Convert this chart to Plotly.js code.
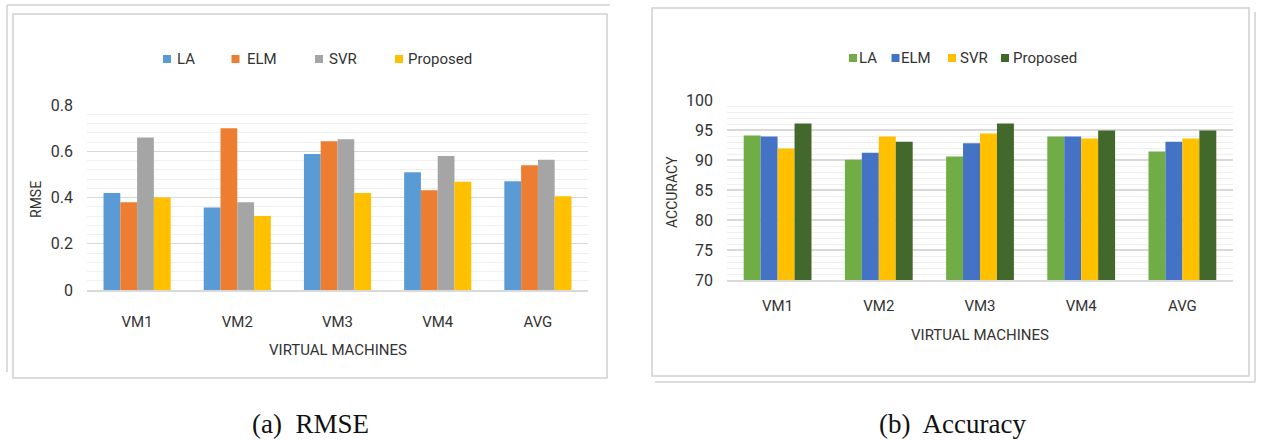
<!DOCTYPE html>
<html>
<head>
<meta charset="utf-8">
<script src="https://cdn.plot.ly/plotly-3.0.1.min.js"></script>
<style>
html,body{margin:0;padding:0;background:#fff;}
#chart{width:1261px;height:441px;}
</style>
</head>
<body>
<div id="chart"></div>
<script>
// ---- data ----
const categories = ['VM1', 'VM2', 'VM3', 'VM4', 'AVG'];
const methods = ['LA', 'ELM', 'SVR', 'Proposed'];

const rmseLA = [0.42, 0.357, 0.588, 0.509, 0.47];
const rmseELM = [0.38, 0.70, 0.643, 0.431, 0.539];
const rmseSVR = [0.66, 0.38, 0.652, 0.579, 0.563];
const rmseProposed = [0.40, 0.32, 0.42, 0.468, 0.405];

const accLA = [94.1, 90.05, 90.6, 93.9, 91.4];
const accELM = [93.9, 91.2, 92.8, 93.9, 93.05];
const accSVR = [91.9, 93.9, 94.4, 93.6, 93.6];
const accProposed = [96.1, 93.05, 96.1, 94.9, 94.9];

const rmseTicks = [0, 0.2, 0.4, 0.6, 0.8];
const accTicks = [70, 75, 80, 85, 90, 95, 100];

// ---- styling ----
const W = 1261, H = 441;
const px = x => x / W;
const py = y => 1 - y / H;
const FONT = 'Roboto, Arial, sans-serif';
const TXT = '#333333';

const rmseColors = ['#5B9BD5', '#ED7D31', '#A5A5A5', '#FFC000'];
const accColors = ['#70AD47', '#4472C4', '#FFC000', '#43682B'];

const rmseSeries = [rmseLA, rmseELM, rmseSVR, rmseProposed];
const accSeries = [accLA, accELM, accSVR, accProposed];

const traces = [];
rmseSeries.forEach((vals, i) => {
  traces.push({
    type: 'bar', x: categories, y: vals, name: methods[i],
    marker: {color: rmseColors[i]}, xaxis: 'x', yaxis: 'y'
  });
});
accSeries.forEach((vals, i) => {
  traces.push({
    type: 'bar', x: categories, y: vals, name: methods[i],
    marker: {color: accColors[i]}, xaxis: 'x2', yaxis: 'y2'
  });
});

const axisX = {
  showgrid: false, zeroline: false, showline: true, linecolor: '#d9d9d9', linewidth: 1.5,
  ticks: '', tickfont: {family: FONT, size: 15, color: TXT}, fixedrange: true
};
const axisY = {
  showgrid: true, gridcolor: '#d9d9d9', gridwidth: 1.2, zeroline: false, showline: false,
  ticks: '', tickfont: {family: FONT, size: 16, color: TXT}, ticklabelstandoff: 13, fixedrange: true
};

const frameLine = {color: '#d0d0d0', width: 1.5};

// legend swatch / label positions (pixels)
const legLeftMarkX = [167, 235.5, 319, 399];
const legLeftTextX = [177, 247, 329, 408];
const legLeftY = 59;
const legRightMarkX = [853, 895.5, 952, 1005];
const legRightTextX = [859, 901, 960, 1013];
const legRightY = 58;
const SW = 4; // half swatch size

const shapes = [
  // left frame
  {type: 'rect', xref: 'paper', yref: 'paper', x0: px(13), x1: px(607), y0: py(378), y1: py(14), line: frameLine},
  {type: 'line', xref: 'paper', yref: 'paper', x0: px(7), x1: px(610), y0: py(5), y1: py(5), line: frameLine},
  {type: 'line', xref: 'paper', yref: 'paper', x0: px(7), x1: px(7), y0: py(5), y1: py(372), line: frameLine},
  // right frame
  {type: 'rect', xref: 'paper', yref: 'paper', x0: px(652), x1: px(1249), y0: py(376), y1: py(8), line: frameLine},
  {type: 'line', xref: 'paper', yref: 'paper', x0: px(655), x1: px(1255), y0: py(382), y1: py(382), line: frameLine},
  {type: 'line', xref: 'paper', yref: 'paper', x0: px(1255), x1: px(1255), y0: py(382), y1: py(12), line: frameLine}
];

const annotations = [
  {text: 'RMSE', x: px(36), y: py(200), textangle: -90, font: {family: FONT, size: 14, color: TXT}},
  {text: 'VIRTUAL MACHINES', x: px(338), y: py(350), font: {family: FONT, size: 15, color: TXT}},
  {text: 'ACCURACY', x: px(672), y: py(192), textangle: -90, font: {family: FONT, size: 14, color: TXT}},
  {text: 'VIRTUAL MACHINES', x: px(980), y: py(335), font: {family: FONT, size: 15, color: TXT}},
  {text: '(a)  RMSE', x: px(310), y: py(424), font: {family: 'Liberation Serif, serif', size: 27, color: '#111'}},
  {text: '(b)  Accuracy', x: px(952), y: py(424), font: {family: 'Liberation Serif, serif', size: 27, color: '#111'}}
].map(a => Object.assign({xref: 'paper', yref: 'paper', showarrow: false, xanchor: 'center', yanchor: 'middle'}, a));

methods.forEach((m, i) => {
  shapes.push({type: 'rect', xref: 'paper', yref: 'paper', line: {width: 0}, fillcolor: rmseColors[i],
    x0: px(legLeftMarkX[i] - SW), x1: px(legLeftMarkX[i] + SW), y0: py(legLeftY + SW), y1: py(legLeftY - SW)});
  annotations.push({text: m, xref: 'paper', yref: 'paper', showarrow: false, xanchor: 'left', yanchor: 'middle',
    x: px(legLeftTextX[i] - 2), y: py(legLeftY), font: {family: FONT, size: 15, color: TXT}});
  shapes.push({type: 'rect', xref: 'paper', yref: 'paper', line: {width: 0}, fillcolor: accColors[i],
    x0: px(legRightMarkX[i] - SW), x1: px(legRightMarkX[i] + SW), y0: py(legRightY + SW), y1: py(legRightY - SW)});
  annotations.push({text: m, xref: 'paper', yref: 'paper', showarrow: false, xanchor: 'left', yanchor: 'middle',
    x: px(legRightTextX[i] - 2), y: py(legRightY), font: {family: FONT, size: 15, color: TXT}});
});

const layout = {
  width: W, height: H,
  margin: {l: 0, r: 0, t: 0, b: 0},
  paper_bgcolor: '#fff', plot_bgcolor: 'rgba(0,0,0,0)',
  showlegend: false,
  barmode: 'group', bargap: 0.33, bargroupgap: 0,
  font: {family: FONT, color: TXT},
  xaxis: Object.assign({}, axisX, {domain: [px(87), px(588)], anchor: 'y', ticklabelstandoff: 17}),
  yaxis: Object.assign({}, axisY, {domain: [py(290), py(105)], anchor: 'x', range: [0, 0.8],
    tickvals: rmseTicks, ticktext: rmseTicks.map(v => v === 0 ? '0' : v.toFixed(1)),
    minor: {dtick: 0.04, showgrid: true, gridcolor: '#efefef', gridwidth: 1}}),
  xaxis2: Object.assign({}, axisX, {domain: [px(727), px(1233)], anchor: 'y2', ticklabelstandoff: 11}),
  yaxis2: Object.assign({}, axisY, {domain: [py(280), py(100)], anchor: 'x2', range: [70, 100],
    tickvals: accTicks, ticktext: accTicks.map(String),
    minor: {dtick: 1, showgrid: true, gridcolor: '#efefef', gridwidth: 1}}),
  shapes: shapes,
  annotations: annotations
};

Plotly.newPlot('chart', traces, layout, {staticPlot: true, displayModeBar: false});
</script>
</body>
</html>
